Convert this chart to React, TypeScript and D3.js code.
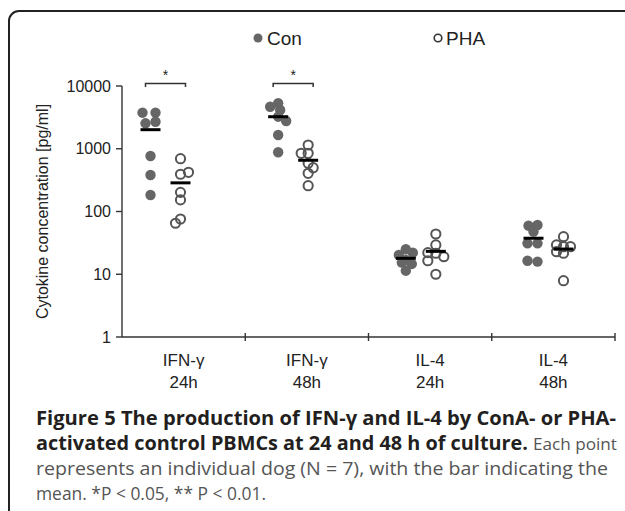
import * as d3 from 'd3';

// categories (two-line tick labels)
const catLine1 = ['IFN-γ', 'IFN-γ', 'IL-4', 'IL-4'];
const catLine2 = ['24h', '48h', '24h', '48h'];

// cytokine concentrations [pg/ml], one dog per entry
const conValues = [
  [3757, 3757, 2544, 2698, 766, 382, 183],
  [4677, 5300, 4147, 3243, 2768, 1656, 878],
  [20.3, 25.0, 22.1, 16.9, 15.3, 14.6, 11.4],
  [59.4, 60.9, 47.7, 31.1, 31.1, 16.4, 15.9],
];
const phaValues = [
  [694, 392, 421, 202, 153, 65, 76],
  [1148, 846, 846, 586, 499, 406, 258],
  [43.8, 29.3, 22.1, 21.6, 19.0, 16.4, 10.0],
  [39.7, 29.3, 27.5, 27.5, 22.9, 21.6, 7.9],
];
const significance = ['*', '*', '', ''];

const yTicks = [1, 10, 100, 1000, 10000];
const yTickLabels = ['1', '10', '100', '1000', '10000'];

// horizontal scatter so overlapping dots stay visible (px)
const conJitter = [
  [-8, 5, -5, 5, 0, 0, 0],
  [-8, 0, 2, 0, 8, 0, 0],
  [-7, 0, 7, 0, -4, 6, 0],
  [-5, 4, 0, -6, 4, -6, 4],
];
const phaJitter = [
  [0, 0, 8, 0, 0, -5, 0],
  [0, -7, 0, 0, 5, 0, 0],
  [0, 0, -8, 0, 8, -8, 0],
  [0, -7, 7, 0, -7, 0, 0],
];

const font = '"Liberation Sans", Arial, sans-serif';
const capFont = '"Open Sans", "Noto Sans", sans-serif';

export default function App() {
  const width = 625;
  const height = 511;

  const y = d3.scaleLog().domain([1, 10000]).range([337, 86]);
  const x = d3
    .scaleBand<number>()
    .domain(d3.range(catLine1.length))
    .range([122, 615])
    .paddingInner(0)
    .paddingOuter(0);
  // group centres for the dots
  const gx = d3.scaleLinear().domain([0, 3]).range([165.5, 548.5]);
  const half = 15;

  const bw = x.bandwidth();
  const xTicks = d3.range(catLine1.length + 1).map((i) => 122 + i * bw);

  const grey = '#666666';
  const ring = '#555555';

  return (
    <svg width={width} height={height} style={{ position: 'absolute', left: 0, top: 0 }}>
      <rect x={0} y={0} width={width} height={height} fill="#fff" />
      {/* frame */}
      <rect x={9} y={11} width={660} height={600} rx={10} fill="none" stroke="#222" strokeWidth={2} />

      {/* legend */}
      <circle cx={258} cy={38} r={4.5} fill={grey} />
      <text x={267} y={45} fontFamily={font} fontSize={19} fill="#222">Con</text>
      <circle cx={438} cy={38} r={3.8} fill="none" stroke="#333" strokeWidth={1.6} />
      <text x={446} y={45} fontFamily={font} fontSize={19} fill="#222">PHA</text>

      {/* y axis */}
      <line x1={122} x2={122} y1={y(10000)} y2={y(1)} stroke="#333" strokeWidth={1.4} />
      {yTicks.map((t, i) => (
        <g key={t}>
          <line x1={116} x2={122} y1={y(t)} y2={y(t)} stroke="#333" strokeWidth={1.4} />
          <text x={111} y={y(t) + 5.5} textAnchor="end" fontFamily={font} fontSize={16} fill="#222">
            {yTickLabels[i]}
          </text>
        </g>
      ))}
      <text
        transform={`translate(48,${(y(1) + y(10000)) / 2}) rotate(-90)`}
        textAnchor="middle"
        fontFamily={font}
        fontSize={16}
        fill="#222"
      >
        Cytokine concentration [pg/ml]
      </text>

      {/* x axis */}
      <line x1={122} x2={xTicks[xTicks.length - 1]} y1={y(1)} y2={y(1)} stroke="#333" strokeWidth={1.4} />
      {xTicks.slice(1).map((t) => (
        <line key={t} x1={t} x2={t} y1={y(1) - 4} y2={y(1) + 4} stroke="#333" strokeWidth={1.4} />
      ))}
      {catLine1.map((c, i) => (
        <g key={i}>
          <text x={x(i)! + bw / 2} y={366} textAnchor="middle" fontFamily={font} fontSize={17} fill="#222">
            {c}
          </text>
          <text x={x(i)! + bw / 2} y={388} textAnchor="middle" fontFamily={font} fontSize={17} fill="#222">
            {catLine2[i]}
          </text>
        </g>
      ))}

      {/* dots */}
      {conValues.map((vals, i) =>
        vals.map((v, j) => (
          <circle key={`c${i}-${j}`} cx={gx(i) - half + conJitter[i][j]} cy={y(v)} r={5.2} fill={grey} />
        ))
      )}
      {phaValues.map((vals, i) =>
        vals.map((v, j) => (
          <circle
            key={`p${i}-${j}`}
            cx={gx(i) + half + phaJitter[i][j]}
            cy={y(v)}
            r={4.6}
            fill="none"
            stroke={ring}
            strokeWidth={2}
          />
        ))
      )}

      {/* mean bars */}
      {conValues.map((vals, i) => (
        <line
          key={`cm${i}`}
          x1={gx(i) - half - 10}
          x2={gx(i) - half + 10}
          y1={y(d3.mean(vals)!)}
          y2={y(d3.mean(vals)!)}
          stroke="#000"
          strokeWidth={3}
        />
      ))}
      {phaValues.map((vals, i) => (
        <line
          key={`pm${i}`}
          x1={gx(i) + half - 10}
          x2={gx(i) + half + 10}
          y1={y(d3.mean(vals)!)}
          y2={y(d3.mean(vals)!)}
          stroke="#000"
          strokeWidth={3}
        />
      ))}

      {/* significance brackets */}
      {significance.map((s, i) =>
        s ? (
          <g key={`s${i}`}>
            <path
              d={`M${gx(i) - 20},87 V83.5 H${gx(i) + 20} V87`}
              fill="none"
              stroke="#333"
              strokeWidth={1.5}
            />
            <text x={gx(i)} y={80} textAnchor="middle" fontFamily={font} fontSize={14} fill="#222">
              {s}
            </text>
          </g>
        ) : null
      )}

      {/* caption */}
      <g fontFamily={capFont} fontSize={19}>
        <text x={36} y={425} fontWeight={700} fill="#231f20" textLength={580} lengthAdjust="spacingAndGlyphs">
          Figure 5 The production of IFN-γ and IL-4 by ConA- or PHA-
        </text>
        <text x={36} y={450} fontWeight={700} fill="#231f20" textLength={492} lengthAdjust="spacingAndGlyphs">
          activated control PBMCs at 24 and 48 h of culture.
        </text>
        <text x={533} y={450} fontSize={17} fill="#555" textLength={84} lengthAdjust="spacingAndGlyphs">
          Each point
        </text>
        <text x={36} y={475} fill="#555" textLength={572} lengthAdjust="spacingAndGlyphs">
          represents an individual dog (N = 7), with the bar indicating the
        </text>
        <text x={36} y={500} fill="#555" textLength={230} lengthAdjust="spacingAndGlyphs">
          mean. *P &lt; 0.05, ** P &lt; 0.01.
        </text>
      </g>
    </svg>
  );
}
